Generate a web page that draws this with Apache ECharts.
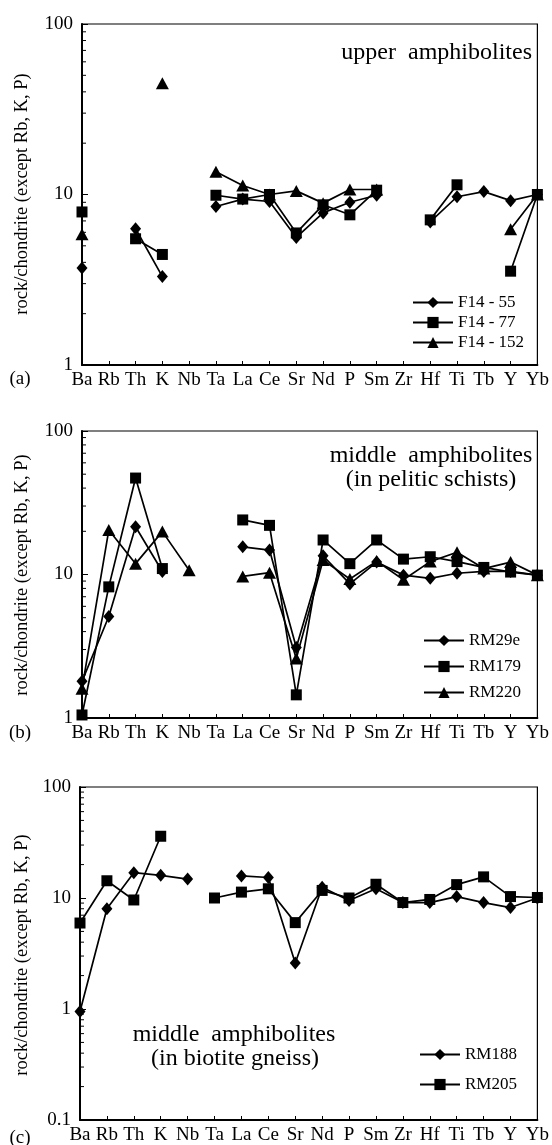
<!DOCTYPE html>
<html>
<head>
<meta charset="utf-8">
<script src="https://cdn.jsdelivr.net/npm/echarts@6/dist/echarts.min.js"></script>
<style>
html,body{margin:0;padding:0;background:#fff;}
#chart{width:552px;height:1145px;}
</style>
</head>
<body>
<div id="chart"></div>
<script>
// ---------- data ----------
var categories = ['Ba','Rb','Th','K','Nb','Ta','La','Ce','Sr','Nd','P','Sm','Zr','Hf','Ti','Tb','Y','Yb'];

// panel (a) upper amphibolites
var F14_55  = [3.7, null, 6.3, 3.3, null, 8.5, 9.4, 9.1, 5.6, 7.8, 9.0, 9.9, null, 6.9, 9.7, 10.4, 9.2, 10.0];
var F14_77  = [7.9, null, 5.5, 4.45, null, 9.9, 9.4, 10.0, 5.95, 8.7, 7.6, 10.6, null, 7.1, 11.4, null, 3.55, 10.0];
var F14_152 = [5.85, null, null, 45, null, 13.6, 11.3, 10.0, 10.5, 8.9, 10.7, 10.7, null, null, null, null, 6.25, 10.0];

// panel (b) middle amphibolites (in pelitic schists)
var RM29e = [1.8, 5.1, 21.5, 10.5, null, null, 15.6, 14.8, 3.1, 13.5, 8.6, 12.2, 9.9, 9.4, 10.2, 10.5, 10.5, 9.9];
var RM179 = [1.05, 8.2, 47, 11.0, null, null, 24.0, 22.0, 1.45, 17.4, 11.9, 17.4, 12.8, 13.3, 12.3, 11.2, 10.4, 9.9];
var RM220 = [1.6, 20.4, 11.9, 19.9, 10.7, null, 9.7, 10.3, 2.6, 12.6, 9.3, 12.4, 9.2, 12.3, 14.3, 11.0, 12.2, 9.9];

// panel (c) middle amphibolites (in biotite gneiss)
var RM188 = [0.95, 8.0, 16.9, 16.0, 14.8, null, 15.8, 15.3, 2.6, 12.5, 9.5, 12.1, 9.1, 9.1, 10.3, 9.1, 8.2, 10.0];
var RM205 = [5.95, 14.3, 9.6, 36, null, 10.0, 11.3, 12.1, 6.0, 11.7, 10.0, 13.3, 9.1, 9.7, 13.2, 15.5, 10.3, 10.1];

// log-axis minor tick values
var minorTicksAB = [2,3,4,5,6,7,8,9,20,30,40,50,60,70,80,90];
var minorTicksC  = [0.2,0.3,0.4,0.5,0.6,0.7,0.8,0.9,2,3,4,5,6,7,8,9,20,30,40,50,60,70,80,90];

var yTitle = 'rock/chondrite (except Rb, K, P)';
// ---------- chart ----------
var FONT = '"Liberation Serif", "Times New Roman", serif';
var chart = echarts.init(document.getElementById('chart'), null, {renderer:'canvas'});

var grids = [
  {left:82, top:24, width:462, height:341},
  {left:82, top:431, width:461, height:287},
  {left:80, top:787, width:461, height:337}
];
var yRanges = [[1,100],[1,100],[0.1,100]];

function xAxisFor(i){
  return {
    type:'category', gridIndex:i, data:categories, boundaryGap:false,
    axisLine:{lineStyle:{color:'#000', width:2}},
    axisTick:{inside:true, length:4, lineStyle:{color:'#000', width:1}},
    axisLabel:{interval:0, color:'#000', fontSize:19, fontFamily:FONT, margin:6},
    splitLine:{show:false}
  };
}
function yAxisFor(i){
  return {
    type:'log', logBase:10, gridIndex:i, min:yRanges[i][0], max:yRanges[i][1],
    axisLine:{show:true, lineStyle:{color:'#000', width:2}},
    axisTick:{show:true, inside:true, length:6, lineStyle:{color:'#000', width:1}},
    axisLabel:{color:'#000', fontSize:19, fontFamily:FONT, margin:9,
      formatter:function(v){ return String(+Number(v).toPrecision(3)); }},
    splitLine:{show:false}, minorTick:{show:false}
  };
}
var symbols = {diamond:['diamond',[11,13]], square:['rect',11], tri:['triangle',[13,12]]};
function lineSeries(name, data, sym, i){
  return {
    type:'line', name:name, data:data, xAxisIndex:i, yAxisIndex:i,
    symbol:symbols[sym][0], symbolSize:symbols[sym][1], showSymbol:true, showAllSymbol:true,
    connectNulls:false, animation:false,
    lineStyle:{color:'#000', width:1.7}, itemStyle:{color:'#000'}
  };
}
function minorSeries(vals, i){
  return {
    type:'custom', xAxisIndex:i, yAxisIndex:i, silent:true, animation:false,
    data:vals.map(function(v){ return [0, v]; }),
    renderItem:function(params, api){
      var p = api.coord([api.value(0), api.value(1)]);
      return {type:'line', shape:{x1:p[0], y1:p[1], x2:p[0]+4, y2:p[1]},
              style:{stroke:'#000', lineWidth:1}};
    }
  };
}
function legendFor(names, top, left, gap){
  return {
    data:names, orient:'vertical', left:left, top:top, itemWidth:40, itemHeight:14, itemGap:gap,
    textStyle:{color:'#000', fontSize:17, fontFamily:FONT}, selectedMode:false
  };
}
function txt(str, x, y, align, size, rot){
  var el = {type:'text', x:x, y:y, silent:true,
    style:{text:str, fill:'#000', font:size+'px '+FONT, textAlign:align, textVerticalAlign:'middle', lineHeight:24}};
  if (rot) el.rotation = rot;
  return el;
}

var option = {
  backgroundColor:'#fff',
  animation:false,
  grid: grids.map(function(g){ return Object.assign({show:true, borderColor:'#000', borderWidth:1.2, containLabel:false}, g); }),
  xAxis:[xAxisFor(0), xAxisFor(1), xAxisFor(2)],
  yAxis:[yAxisFor(0), yAxisFor(1), yAxisFor(2)],
  legend:[
    legendFor(['F14 - 55','F14 - 77','F14 - 152'], 289, 407, 3),
    legendFor(['RM29e','RM179','RM220'], 627, 418, 9),
    legendFor(['RM188','RM205'], 1041, 414, 13)
  ],
  series:[
    lineSeries('F14 - 55', F14_55, 'diamond', 0),
    lineSeries('F14 - 77', F14_77, 'square', 0),
    lineSeries('F14 - 152', F14_152, 'tri', 0),
    lineSeries('RM29e', RM29e, 'diamond', 1),
    lineSeries('RM179', RM179, 'square', 1),
    lineSeries('RM220', RM220, 'tri', 1),
    lineSeries('RM188', RM188, 'diamond', 2),
    lineSeries('RM205', RM205, 'square', 2),
    minorSeries(minorTicksAB, 0),
    minorSeries(minorTicksAB, 1),
    minorSeries(minorTicksC, 2)
  ],
  graphic:[
    txt('upper  amphibolites', 532, 53, 'right', 24),
    txt('middle  amphibolites', 431, 456, 'center', 24),
    txt('(in pelitic schists)', 431, 480, 'center', 24),
    txt('middle  amphibolites', 234, 1035, 'center', 24),
    txt('(in biotite gneiss)', 235, 1059, 'center', 24),
    txt('(a)', 20, 379, 'center', 19),
    txt('(b)', 20, 733, 'center', 19),
    txt('(c)', 20, 1138, 'center', 19),
    txt(yTitle, 22, 194, 'center', 18.5, Math.PI/2),
    txt(yTitle, 22, 575, 'center', 18.5, Math.PI/2),
    txt(yTitle, 22, 955, 'center', 18.5, Math.PI/2)
  ]
};
chart.setOption(option);
</script>
</body>
</html>
